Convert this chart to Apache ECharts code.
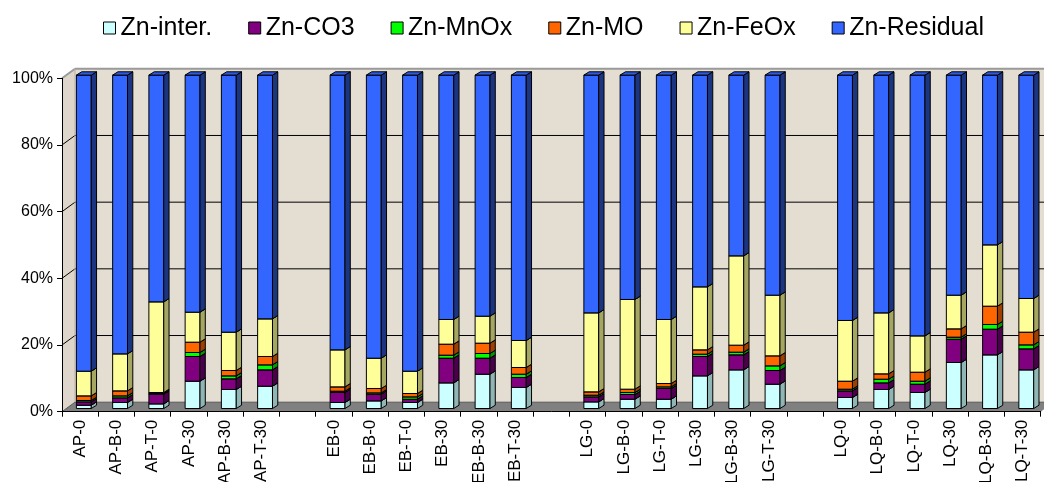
<!DOCTYPE html>
<html>
<head>
<meta charset="utf-8">
<title>Zn fractions</title>
<script src="https://cdn.jsdelivr.net/npm/echarts@6/dist/echarts.min.js"></script>
<style>
  html, body { margin: 0; padding: 0; background: #ffffff; }
  #chart { width: 1044px; height: 482px; }
</style>
</head>
<body>
<div id="chart"></div>
<script>
// Sample labels; empty strings are spacer slots between site groups
const categories = [
  'AP-0', 'AP-B-0', 'AP-T-0', 'AP-30', 'AP-B-30', 'AP-T-30', '',
  'EB-0', 'EB-B-0', 'EB-T-0', 'EB-30', 'EB-B-30', 'EB-T-30', '',
  'LG-0', 'LG-B-0', 'LG-T-0', 'LG-30', 'LG-B-30', 'LG-T-30', '',
  'LQ-0', 'LQ-B-0', 'LQ-T-0', 'LQ-30', 'LQ-B-30', 'LQ-T-30'
];

// Zn fractions (% of total), null for spacer slots
const znInter = [1.0, 1.8, 1.4, 8.2, 5.7, 6.7, null,
                 1.8, 2.3, 1.8, 7.7, 10.3, 6.3, null,
                 2.0, 2.8, 2.8, 9.8, 11.6, 7.3, null,
                 3.3, 5.7, 4.8, 13.8, 16.1, 11.6];
const znCO3 = [1.0, 1.4, 2.9, 7.4, 3.2, 4.9, null,
               3.0, 2.0, 1.0, 7.4, 4.8, 3.0, null,
               1.5, 1.4, 3.2, 5.8, 4.5, 4.1, null,
               2.0, 2.0, 2.5, 7.0, 7.7, 6.3];
const znMnOx = [0.4, 0.6, 0.2, 1.2, 0.9, 1.5, null,
                0.4, 0.4, 0.7, 0.9, 1.4, 1.0, null,
                0.5, 0.6, 0.5, 0.7, 0.8, 1.4, null,
                0.5, 1.1, 0.9, 0.6, 1.4, 1.2];
const znMO = [1.4, 1.5, 0.3, 3.1, 1.6, 2.5, null,
              1.3, 1.3, 1.0, 3.3, 3.1, 2.0, null,
              1.0, 1.0, 1.0, 1.3, 2.1, 3.0, null,
              2.4, 1.6, 2.7, 2.5, 5.5, 3.8];
const znFeOx = [7.4, 11.1, 27.2, 9.0, 11.5, 11.3, null,
                11.1, 9.1, 6.7, 7.4, 8.1, 8.1, null,
                23.7, 26.9, 19.2, 18.9, 26.8, 18.2, null,
                18.2, 18.3, 10.9, 10.1, 18.4, 10.1];
const znResidual = [88.8, 83.6, 68.0, 71.1, 77.1, 73.1, null,
                    82.4, 84.9, 88.8, 73.3, 72.3, 79.6, null,
                    71.3, 67.3, 73.3, 63.5, 54.2, 66.0, null,
                    73.6, 71.3, 78.2, 66.0, 50.9, 67.0];

const yTicks = [0, 20, 40, 60, 80, 100];

// Series definitions: name, values, front / side / top face colours
const fractions = [
  { name: 'Zn-inter.',   values: znInter,    front: '#CCFFFF', side: '#8FB5B5', top: '#B5E3E3' },
  { name: 'Zn-CO3',      values: znCO3,      front: '#800080', side: '#4A004A', top: '#660066' },
  { name: 'Zn-MnOx',     values: znMnOx,     front: '#00FF00', side: '#009A00', top: '#00CC00' },
  { name: 'Zn-MO',       values: znMO,       front: '#FF6600', side: '#9E3F00', top: '#CC5200' },
  { name: 'Zn-FeOx',     values: znFeOx,     front: '#FFFF99', side: '#A6A663', top: '#E3E38A' },
  { name: 'Zn-Residual', values: znResidual, front: '#3366FF', side: '#1C3580', top: '#2D5AE0' }
];

// 3D look: depth of the walls and of the columns (pixels)
const WALL_DX = 13, WALL_DY = -9.5;
const BAR_SHIFT_X = 3.7, BAR_SHIFT_Y = -3.2;
const BAR_DX = 5.3, BAR_DY = -3.3;
const BAR_RATIO = 0.41;
const WALL_COLOR = '#E4DDD2';
const FONT = '"Liberation Sans", Arial, sans-serif';

// Build stacked [index, base, top] records for each fraction
const running = categories.map(() => 0);
const stacked = fractions.map(f => {
  const rows = [];
  f.values.forEach((v, i) => {
    if (v == null) return;
    rows.push([i, running[i], running[i] + v]);
    running[i] += v;
  });
  return rows;
});

function renderWalls(params, api) {
  const cs = params.coordSys;
  const L = cs.x, R = cs.x + cs.width, T = cs.y, B = cs.y + cs.height;
  const dx = WALL_DX, dy = WALL_DY;
  const children = [
    { type: 'rect', shape: { x: L + dx, y: T + dy, width: R - L, height: B - T }, style: { fill: WALL_COLOR } },
    { type: 'polygon', shape: { points: [[L, T], [L + dx, T + dy], [L + dx, B + dy], [L, B]] }, style: { fill: '#DED6CA' } },
    { type: 'polygon', shape: { points: [[L, B], [L + dx, B + dy], [R + dx, B + dy], [R, B]] }, style: { fill: '#808080' } },
    { type: 'line', shape: { x1: L + dx, y1: B + dy, x2: R + dx, y2: B + dy }, style: { stroke: '#555', lineWidth: 1 } },
    { type: 'line', shape: { x1: L, y1: B, x2: L + dx, y2: B + dy }, style: { stroke: '#555', lineWidth: 1 } }
  ];
  yTicks.forEach(v => {
    if (v === 0 || v === 100) return;
    const y = api.coord([0, v])[1];
    children.push({ type: 'line', shape: { x1: L, y1: y, x2: L + dx, y2: y + dy }, style: { stroke: '#000', lineWidth: 1 } });
    children.push({ type: 'line', shape: { x1: L + dx, y1: y + dy, x2: R + dx, y2: y + dy }, style: { stroke: '#000', lineWidth: 1 } });
  });
  children.push({ type: 'line', shape: { x1: L + dx, y1: T + dy, x2: R + dx, y2: T + dy }, style: { stroke: '#9A9A9A', lineWidth: 2 } });
  children.push({ type: 'line', shape: { x1: L, y1: T, x2: L + dx, y2: T + dy }, style: { stroke: '#9A9A9A', lineWidth: 2 } });
  children.push({ type: 'line', shape: { x1: L + dx, y1: T + dy, x2: L + dx, y2: B + dy }, style: { stroke: '#B8B0A4', lineWidth: 1 } });
  return { type: 'group', children };
}

function columnRenderer(f) {
  return function (params, api) {
    const i = api.value(0);
    const p0 = api.coord([i, api.value(1)]);
    const p1 = api.coord([i, api.value(2)]);
    const w = api.size([1, 0])[0] * BAR_RATIO;
    const x0 = p0[0] - w / 2 + BAR_SHIFT_X;
    const yb = p0[1] + BAR_SHIFT_Y;
    const yt = p1[1] + BAR_SHIFT_Y;
    const edge = { stroke: '#000', lineWidth: 1, lineJoin: 'round' };
    return {
      type: 'group',
      children: [
        { type: 'rect', shape: { x: x0, y: yt, width: w, height: yb - yt },
          style: Object.assign({ fill: f.front }, edge) },
        { type: 'polygon', shape: { points: [[x0 + w, yt], [x0 + w + BAR_DX, yt + BAR_DY], [x0 + w + BAR_DX, yb + BAR_DY], [x0 + w, yb]] },
          style: Object.assign({ fill: f.side }, edge) },
        { type: 'polygon', shape: { points: [[x0, yt], [x0 + BAR_DX, yt + BAR_DY], [x0 + w + BAR_DX, yt + BAR_DY], [x0 + w, yt]] },
          style: Object.assign({ fill: f.top }, edge) }
      ]
    };
  };
}

const chart = echarts.init(document.getElementById('chart'), null, { renderer: 'canvas' });

const series = [{
  type: 'custom',
  name: 'walls',
  silent: true,
  clip: false,
  z: 0,
  renderItem: renderWalls,
  data: [[0, 0]]
}].concat(fractions.map((f, k) => ({
  type: 'custom',
  name: f.name,
  clip: false,
  z: 2,
  itemStyle: { color: f.front, borderColor: '#000', borderWidth: 1 },
  encode: { x: 0, y: [1, 2] },
  renderItem: columnRenderer(f),
  data: stacked[k]
})));

chart.setOption({
  backgroundColor: '#ffffff',
  animation: false,
  legend: {
    data: fractions.map(f => f.name),
    left: 103,
    top: 15,
    padding: 0,
    icon: 'rect',
    itemWidth: 12,
    itemHeight: 12,
    itemGap: 36,
    itemStyle: { borderColor: '#000', borderWidth: 1 },
    textStyle: { fontFamily: FONT, fontSize: 25, color: '#000', lineHeight: 26 }
  },
  grid: { left: 62, right: 3.3, top: 78.3, bottom: 70.3, containLabel: false, outerBoundsMode: 'none' },
  xAxis: {
    type: 'category',
    data: categories,
    boundaryGap: true,
    z: 5,
    axisLine: { show: true, lineStyle: { color: '#000', width: 1 } },
    axisTick: { show: true, length: 5, interval: 0, lineStyle: { color: '#000' } },
    axisLabel: { interval: 0, rotate: 90, margin: 8, fontFamily: FONT, fontSize: 17, color: '#000' },
    splitLine: { show: false }
  },
  yAxis: {
    type: 'value',
    min: 0,
    max: 100,
    interval: 20,
    z: 5,
    axisLine: { show: true, lineStyle: { color: '#000', width: 1 } },
    axisTick: { show: true, length: 5, lineStyle: { color: '#000' } },
    axisLabel: { formatter: '{value}%', margin: 9, fontFamily: FONT, fontSize: 16, color: '#000' },
    splitLine: { show: false }
  },
  series: series
});
</script>
</body>
</html>
